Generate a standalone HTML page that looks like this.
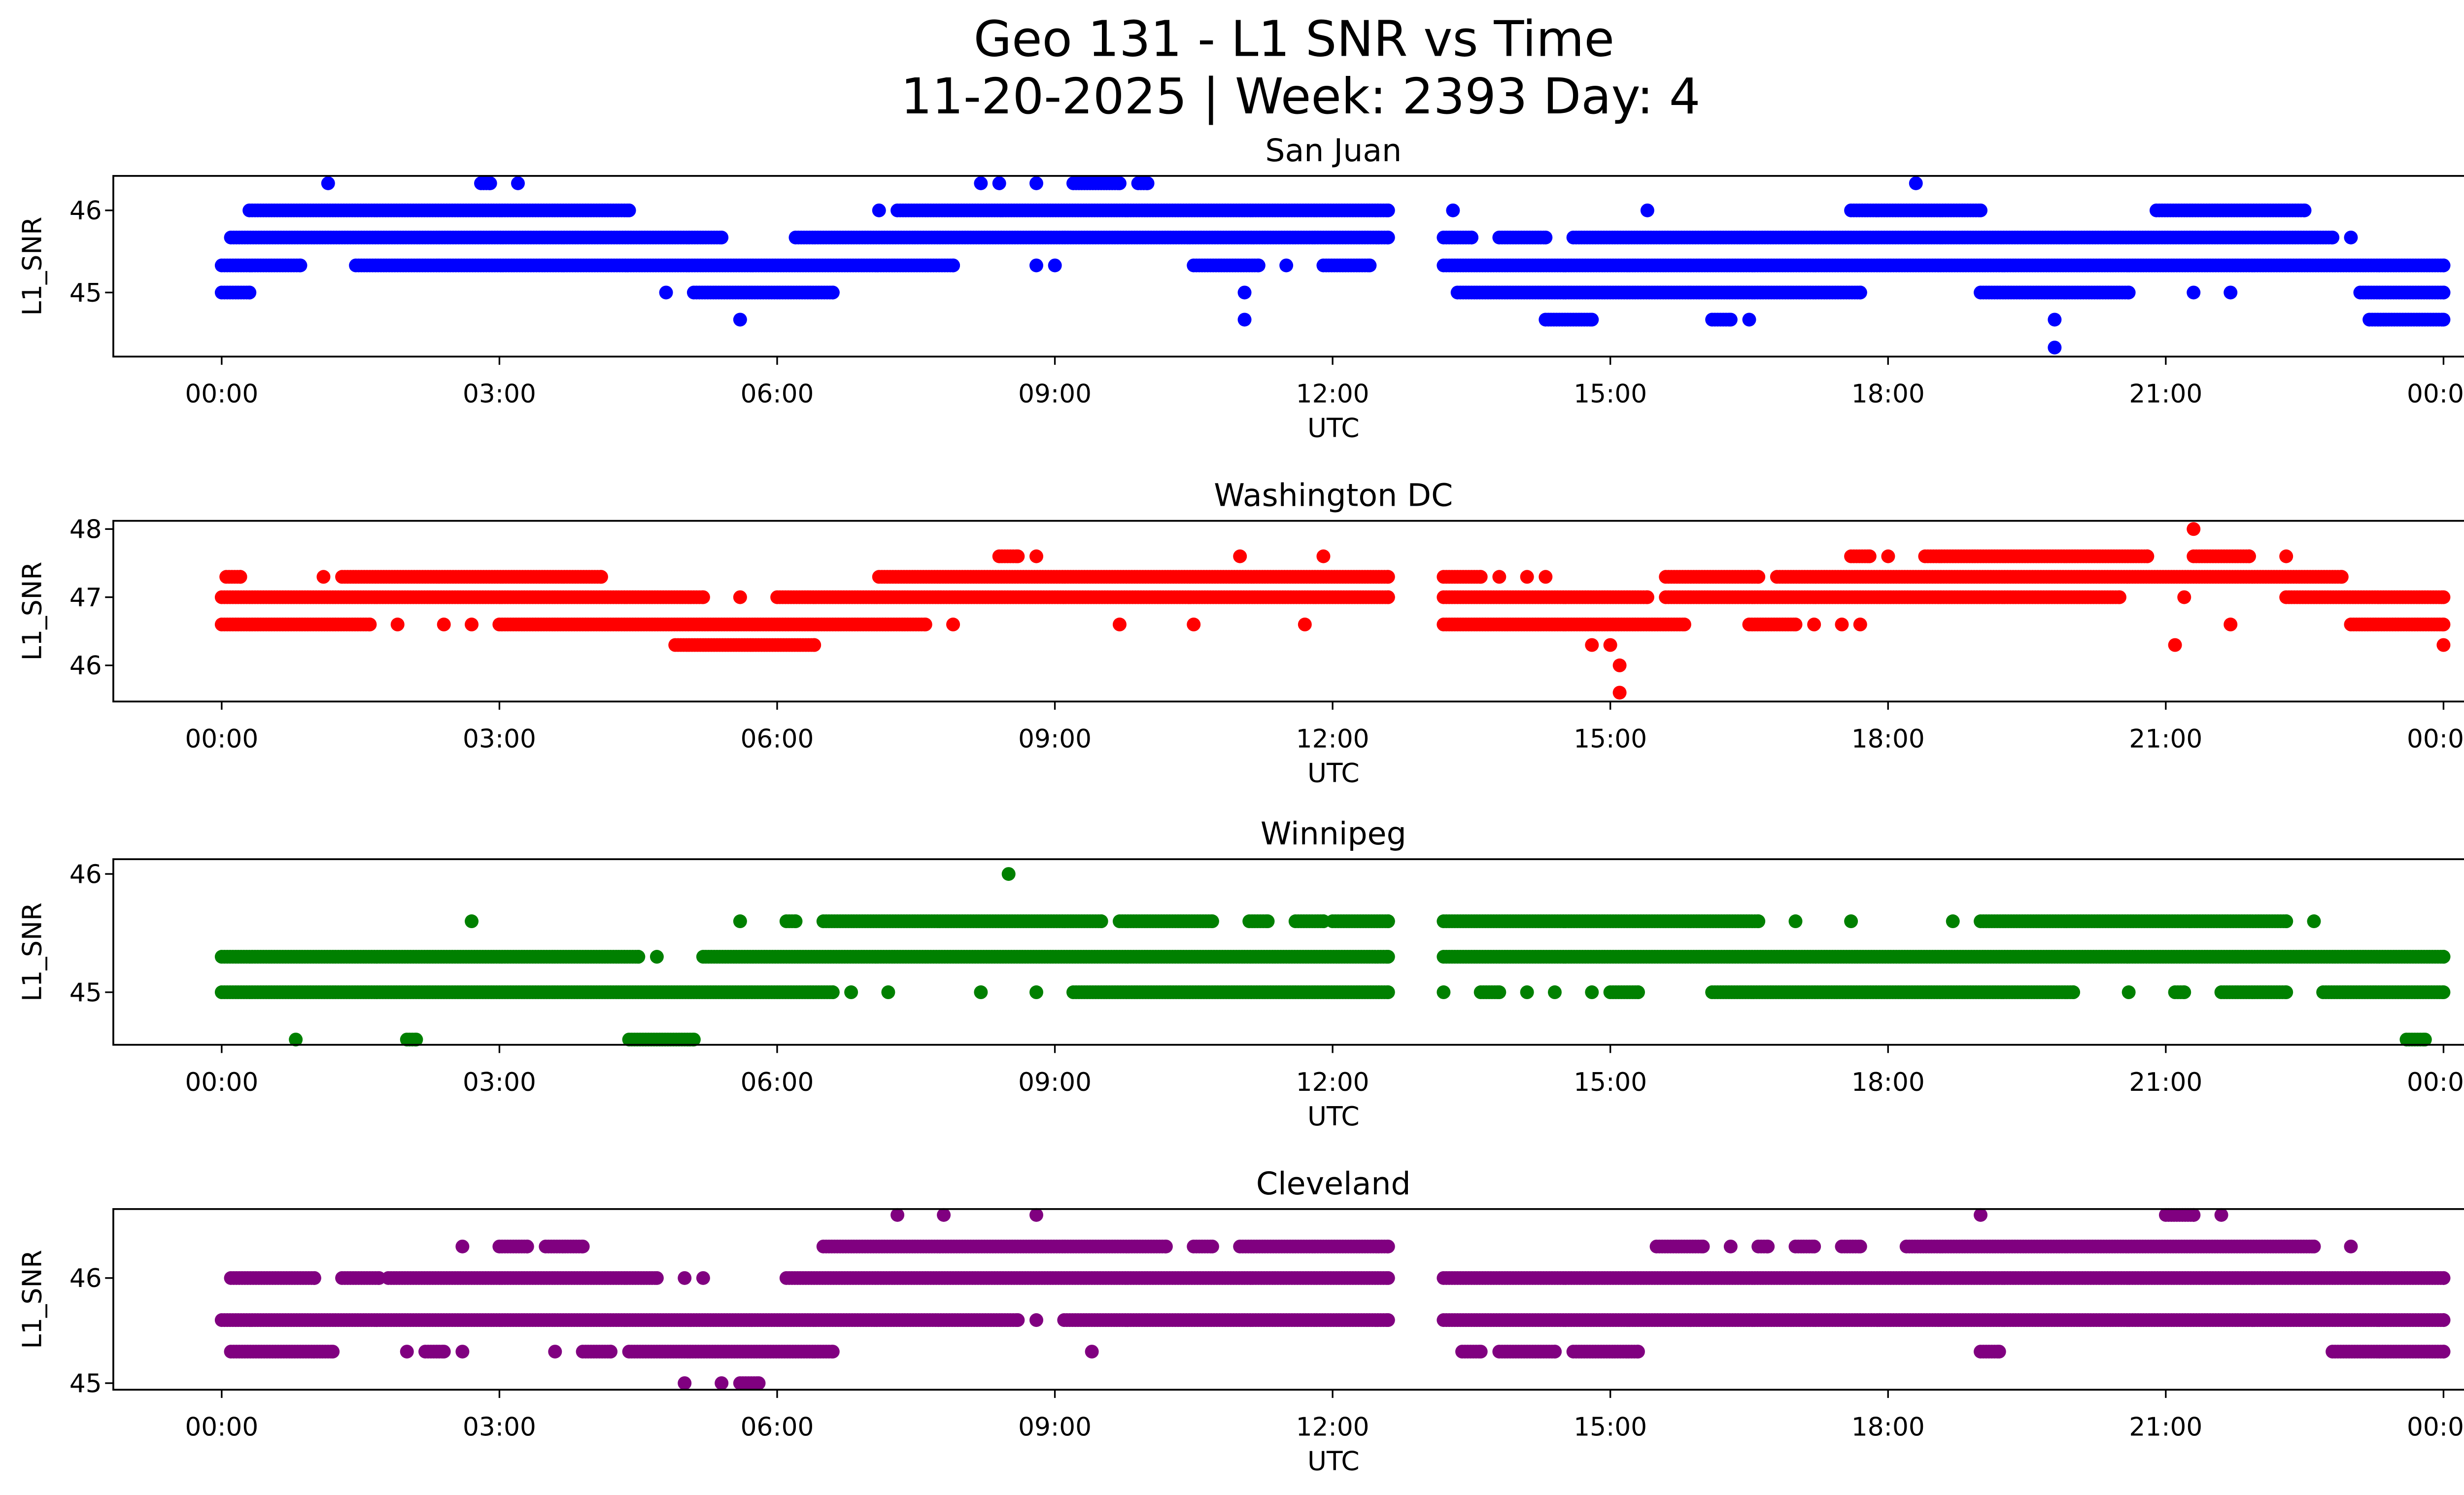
<!DOCTYPE html>
<html><head><meta charset="utf-8"><style>
html,body{margin:0;padding:0;background:#fff;}
svg{display:block;font-family:"DejaVu Sans","Liberation Sans",sans-serif;}
</style></head><body>
<svg id="fig" width="5225" height="3033" viewBox="0 0 1568 910" xmlns="http://www.w3.org/2000/svg">
<rect width="1568" height="910" fill="#fff"/>
<text x="788" y="34" text-anchor="middle" font-size="30">Geo 131 - L1 SNR vs Time</text>
<text x="792" y="69" text-anchor="middle" font-size="30">11-20-2025 | Week: 2393 Day: 4</text>
</svg>
<script>
// Panel 1: San Juan (level: runs of [startHour,endHour])
const sjLevels = [46.33, 46.0, 45.67, 45.33, 45.0, 44.67, 44.33];
const sjRuns = [
 [[1.15,1.15],[2.8,2.9],[3.2,3.2],[8.2,8.2],[8.4,8.4],[8.8,8.8],[9.2,9.7],[9.9,10.0],[18.3,18.3]],
 [[0.3,4.4],[7.1,7.1],[7.3,12.6],[13.3,13.3],[15.4,15.4],[17.6,19.0],[20.9,22.5]],
 [[0.1,5.4],[6.2,12.6],[13.2,13.5],[13.8,14.3],[14.6,22.8],[23.0,23.0]],
 [[0,0.85],[1.45,7.9],[8.8,8.8],[9.0,9.0],[10.5,11.2],[11.5,11.5],[11.9,12.4],[13.2,24]],
 [[0,0.3],[4.8,4.8],[5.1,6.6],[11.05,11.05],[13.35,17.7],[19.0,20.6],[21.3,21.3],[21.7,21.7],[23.1,24]],
 [[5.6,5.6],[11.05,11.05],[14.3,14.8],[16.1,16.3],[16.5,16.5],[19.8,19.8],[23.2,24]],
 [[19.8,19.8]]
];
// Panel 2: Washington DC
const dcLevels = [48.0, 47.6, 47.3, 47.0, 46.6, 46.3, 46.0, 45.6];
const dcRuns = [
 [[21.3,21.3]],
 [[8.4,8.6],[8.8,8.8],[11.0,11.0],[11.9,11.9],[17.6,17.8],[18.0,18.0],[18.4,20.8],[21.3,21.9],[22.3,22.3]],
 [[0.05,0.2],[1.1,1.1],[1.3,4.1],[7.1,12.6],[13.2,13.6],[13.8,13.8],[14.1,14.1],[14.3,14.3],[15.6,16.6],[16.8,22.9]],
 [[0,5.2],[5.6,5.6],[6.0,12.6],[13.2,15.4],[15.6,20.5],[21.2,21.2],[22.3,24]],
 [[0,1.6],[1.9,1.9],[2.4,2.4],[2.7,2.7],[3.0,7.6],[7.9,7.9],[9.7,9.7],[10.5,10.5],[11.7,11.7],[13.2,15.8],[16.5,17.0],[17.2,17.2],[17.5,17.5],[17.7,17.7],[21.7,21.7],[23.0,24]],
 [[4.9,6.4],[14.8,14.8],[15.0,15.0],[21.1,21.1],[24,24]],
 [[15.1,15.1]],
 [[15.1,15.1]]
];
// Panel 3: Winnipeg
const wpLevels = [46.0, 45.6, 45.3, 45.0, 44.6];
const wpRuns = [
 [[8.5,8.5]],
 [[2.7,2.7],[5.6,5.6],[6.1,6.2],[6.5,9.5],[9.7,10.7],[11.1,11.3],[11.6,11.9],[12.0,12.6],[13.2,16.6],[17.0,17.0],[17.6,17.6],[18.7,18.7],[19.0,22.3],[22.6,22.6]],
 [[0,4.5],[4.7,4.7],[5.2,12.6],[13.2,24]],
 [[0,6.6],[6.8,6.8],[7.2,7.2],[8.2,8.2],[8.8,8.8],[9.2,12.6],[13.2,13.2],[13.6,13.8],[14.1,14.1],[14.4,14.4],[14.8,14.8],[15.0,15.3],[16.1,20.0],[20.6,20.6],[21.1,21.2],[21.6,22.3],[22.7,24]],
 [[0.8,0.8],[2.0,2.1],[4.4,5.1],[23.6,23.8]]
];
// Panel 4: Cleveland
const clLevels = [46.6, 46.3, 46.0, 45.6, 45.3, 45.0];
const clRuns = [
 [[7.3,7.3],[7.8,7.8],[8.8,8.8],[19.0,19.0],[21.0,21.3],[21.6,21.6]],
 [[2.6,2.6],[3.0,3.3],[3.5,3.9],[6.5,10.2],[10.5,10.7],[11.0,12.6],[15.5,16.0],[16.3,16.3],[16.6,16.7],[17.0,17.2],[17.5,17.7],[18.2,22.6],[23.0,23.0]],
 [[0.1,1.0],[1.3,1.7],[1.8,4.7],[5.0,5.0],[5.2,5.2],[6.1,12.6],[13.2,24]],
 [[0,8.6],[8.8,8.8],[9.1,12.6],[13.2,24]],
 [[0.1,1.2],[2.0,2.0],[2.2,2.4],[2.6,2.6],[3.6,3.6],[3.9,4.2],[4.4,6.6],[9.4,9.4],[13.4,13.6],[13.8,14.4],[14.6,15.3],[19.0,19.2],[22.8,24]],
 [[5.0,5.0],[5.4,5.4],[5.6,5.8]]
];
const sjTicks=[45,46], dcTicks=[46,47,48], wpTicks=[45,46], clTicks=[45,46];
const xTicks=[0,3,6,9,12,15,18,21,24];
const xTickLabels=["00:00","03:00","06:00","09:00","12:00","15:00","18:00","21:00","00:00"];

const NS="http://www.w3.org/2000/svg";
const svg=document.getElementById('fig');
function mk(tag,attrs,parent){const e=document.createElementNS(NS,tag);for(const k in attrs)e.setAttribute(k,attrs[k]);(parent||svg).appendChild(e);return e;}
const X0=69,X1=1555;
function xs(h){return 135+h*(1488-135)/24;}
const panels=[
 {name:'san-juan',title:'San Juan',color:'#0000ff',top:107,bot:217,yA:[46,128],yB:[45,178],levels:sjLevels,runs:sjRuns,ticks:sjTicks},
 {name:'washington-dc',title:'Washington DC',color:'#ff0000',top:317,bot:427,yA:[48,322],yB:[46,405],levels:dcLevels,runs:dcRuns,ticks:dcTicks},
 {name:'winnipeg',title:'Winnipeg',color:'#008000',top:523,bot:636,yA:[46,532],yB:[45,604],levels:wpLevels,runs:wpRuns,ticks:wpTicks},
 {name:'cleveland',title:'Cleveland',color:'#800080',top:736,bot:846,yA:[46,778],yB:[45,842],levels:clLevels,runs:clRuns,ticks:clTicks}
];
panels.forEach(p=>{
 const ys=v=>p.yB[1]+(v-p.yB[0])*(p.yA[1]-p.yB[1])/(p.yA[0]-p.yB[0]);
 const g=mk('g',{});
 
 
 const t=mk('text',{x:(X0+X1)/2,y:p.top-9,'text-anchor':'middle','font-size':19},g);
 t.textContent=p.title;
 
 
 const pts=mk('g',{fill:p.color},g);
 
 
 p.levels.forEach((lv,i)=>{
  p.runs[i].forEach(r=>{
   for(let h=r[0];h<=r[1]+1e-9;h+=0.03){
    const c=mk('circle',{cx:xs(h).toFixed(1),cy:ys(lv).toFixed(1),r:4.2},pts);
    
    
   }
   if(r[1]>r[0]){const c=mk('circle',{cx:xs(r[1]).toFixed(1),cy:ys(lv).toFixed(1),r:4.2},pts);
    
    }
  });
 });
 const fr=mk('rect',{x:X0,y:p.top,width:X1-X0,height:p.bot-p.top,fill:'none',stroke:'#000','stroke-width':1.1},g);
 
 
 xTicks.forEach((h,i)=>{
  mk('line',{x1:xs(h),x2:xs(h),y1:p.bot,y2:p.bot+5,stroke:'#000','stroke-width':1},g);
  const l=mk('text',{x:xs(h),y:p.bot+28,'text-anchor':'middle','font-size':15.5},g);
  l.textContent=xTickLabels[i];
  
  
 });
 p.ticks.forEach(v=>{
  mk('line',{x1:X0-5,x2:X0,y1:ys(v),y2:ys(v),stroke:'#000','stroke-width':1},g);
  const l=mk('text',{x:X0-7,y:ys(v)+5.5,'text-anchor':'end','font-size':15.5},g);
  l.textContent=v;
  
  
 });
 const xl=mk('text',{x:(X0+X1)/2,y:p.bot+49,'text-anchor':'middle','font-size':16},g);
 xl.textContent='UTC';
 
 
 const cy=(p.top+p.bot)/2;
 const yl=mk('text',{x:25,y:cy,'text-anchor':'middle','font-size':16,transform:`rotate(-90 25 ${cy})`},g);
 yl.textContent='L1_SNR';
 
 
});
</script>
</body></html>
